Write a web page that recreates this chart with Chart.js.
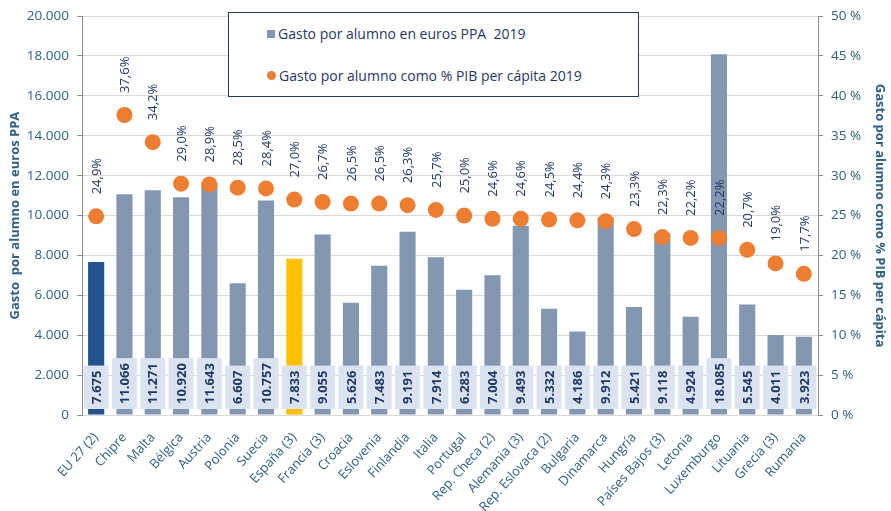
<!DOCTYPE html>
<html lang="es">
<head>
<meta charset="utf-8">
<script src="https://cdn.jsdelivr.net/npm/chart.js@4"></script>
<style>
  body { margin: 0; background: #fff; font-family: "Open Sans", sans-serif; }
  #wrap { position: relative; width: 891px; height: 511px; }
  #leyenda {
    position: absolute; left: 228px; top: 12px; width: 409px; height: 83px;
    border: 1.5px solid #1F3864; background: #fff; color: #1F3864; font-size: 14px;
  }
  .item { position: absolute; left: 38px; display: flex; align-items: center; white-space: pre; }
  .marca { display: inline-block; width: 8px; height: 8px; margin-right: 3px; }
</style>
</head>
<body>
<div id="wrap">
  <canvas id="grafico" width="891" height="511"></canvas>
  <div id="leyenda"></div>
</div>
<script>
const paises = ["EU 27 (2)", "Chipre", "Malta", "Bélgica", "Austria", "Polonia", "Suecia", "España (3)",
  "Francia (3)", "Croacia", "Eslovenia", "Finlandia", "Italia", "Portugal", "Rep. Checa (2)", "Alemania (3)",
  "Rep. Eslovaca (2)", "Bulgaria", "Dinamarca", "Hungría", "Países Bajos (3)", "Letonia", "Luxemburgo",
  "Lituania", "Grecia (3)", "Rumania"];
const gastoEuros = [7675, 11066, 11271, 10920, 11643, 6607, 10757, 7833, 9055, 5626, 7483, 9191, 7914,
  6283, 7004, 9493, 5332, 4186, 9912, 5421, 9118, 4924, 18085, 5545, 4011, 3923];
const gastoPIB = [24.9, 37.6, 34.2, 29.0, 28.9, 28.5, 28.4, 27.0, 26.7, 26.5, 26.5, 26.3, 25.7, 25.0,
  24.6, 24.6, 24.5, 24.4, 24.3, 23.3, 22.3, 22.2, 22.2, 20.7, 19.0, 17.7];

const azulTexto = "#2E6084";
const navy = "#1F3864";
const fuente = '"Open Sans", sans-serif';

// separador de miles con punto
function miles(v) {
  return String(v).replace(/\B(?=(\d{3})+(?!\d))/g, ".");
}

const coloresBarras = paises.map(p => p === "EU 27 (2)" ? "#23538F" : (p === "España (3)" ? "#FFC000" : "#8497B0"));

// etiquetas de valores
const etiquetas = {
  id: "etiquetas",
  afterDatasetsDraw(chart) {
    const ctx = chart.ctx;
    const yEje = chart.scales.y;
    ctx.save();
    ctx.font = "bold 13px " + fuente;
    chart.getDatasetMeta(1).data.forEach((barra, i) => {
      const txt = miles(gastoEuros[i]);
      const w = ctx.measureText(txt).width;
      const alto = w + 10, ancho = 25;
      const base = yEje.bottom - 6;
      ctx.fillStyle = "#DAE3EF";
      ctx.fillRect(barra.x - ancho / 2, base - alto, ancho, alto);
      ctx.save();
      ctx.translate(barra.x + 1, base - alto / 2);
      ctx.rotate(-Math.PI / 2);
      ctx.fillStyle = navy;
      ctx.textAlign = "center";
      ctx.textBaseline = "middle";
      ctx.fillText(txt, 0, 0);
      ctx.restore();
    });
    ctx.font = "13px " + fuente;
    chart.getDatasetMeta(0).data.forEach((punto, i) => {
      const txt = gastoPIB[i].toFixed(1).replace(".", ",") + "%";
      ctx.save();
      ctx.translate(punto.x + 1, punto.y - 22);
      ctx.rotate(-Math.PI / 2);
      ctx.fillStyle = navy;
      ctx.textAlign = "left";
      ctx.textBaseline = "middle";
      ctx.fillText(txt, 0, 0);
      ctx.restore();
    });
    ctx.restore();
  }
};

const grafico = new Chart(document.getElementById("grafico"), {
  data: {
    labels: paises,
    datasets: [
      {
        type: "line",
        label: "Gasto por alumno como % PIB per cápita 2019",
        data: gastoPIB,
        yAxisID: "y1",
        showLine: false,
        pointRadius: 8,
        pointHoverRadius: 8,
        pointBackgroundColor: "#ED7D31",
        pointBorderWidth: 0,
        order: 0
      },
      {
        type: "bar",
        label: "Gasto por alumno en euros PPA  2019",
        data: gastoEuros,
        yAxisID: "y",
        backgroundColor: coloresBarras,
        barPercentage: 0.57,
        categoryPercentage: 1,
        order: 1
      }
    ]
  },
  options: {
    responsive: false,
    animation: false,
    layout: { padding: { top: 12 } },
    plugins: { legend: { display: false }, tooltip: { enabled: false } },
    scales: {
      x: {
        grid: { display: false },
        border: { color: "#D9D9D9" },
        ticks: { color: azulTexto, font: { family: fuente, size: 13 }, minRotation: 48, maxRotation: 48, autoSkip: false, padding: 7 },
        afterFit: s => { s.height = 96; }
      },
      y: {
        position: "left",
        min: 0, max: 20000,
        ticks: { stepSize: 2000, color: azulTexto, font: { family: fuente, size: 13.5 }, padding: 8, callback: v => miles(v) },
        grid: { color: "#D9D9D9", tickColor: "#8C8C8C", tickLength: 5 },
        border: { color: "#8C8C8C" },
        title: { display: true, text: "Gasto  por alumno en euros PPA", color: azulTexto, font: { family: fuente, size: 13, weight: "bold" }, padding: { top: 7, bottom: 0 } },
        afterFit: s => { s.width = 82; }
      },
      y1: {
        position: "right",
        min: 0, max: 50,
        ticks: { stepSize: 5, color: azulTexto, font: { family: fuente, size: 13.5 }, padding: 8, callback: v => v + " %" },
        grid: { drawOnChartArea: false, tickColor: "#8C8C8C", tickLength: 5 },
        border: { color: "#8C8C8C" },
        title: { display: true, text: "Gasto por alumno como % PIB per cápita", color: azulTexto, font: { family: fuente, size: 13, weight: "bold" }, padding: { top: 3, bottom: 0 } },
        afterFit: s => { s.width = 73; }
      }
    }
  },
  plugins: [etiquetas]
});

// leyenda en recuadro
const leyenda = document.getElementById("leyenda");
[1, 0].forEach((idx, fila) => {
  const ds = grafico.data.datasets[idx];
  const item = document.createElement("div");
  item.className = "item";
  item.style.top = (fila === 0 ? 11 : 53) + "px";
  const marca = document.createElement("span");
  marca.className = "marca";
  if (ds.type === "bar") {
    marca.style.background = "#8497B0";
  } else {
    marca.style.background = ds.pointBackgroundColor;
    marca.style.borderRadius = "50%";
    marca.style.width = "9px";
    marca.style.height = "9px";
  }
  item.appendChild(marca);
  item.appendChild(document.createTextNode(ds.label));
  leyenda.appendChild(item);
});
</script>
</body>
</html>
